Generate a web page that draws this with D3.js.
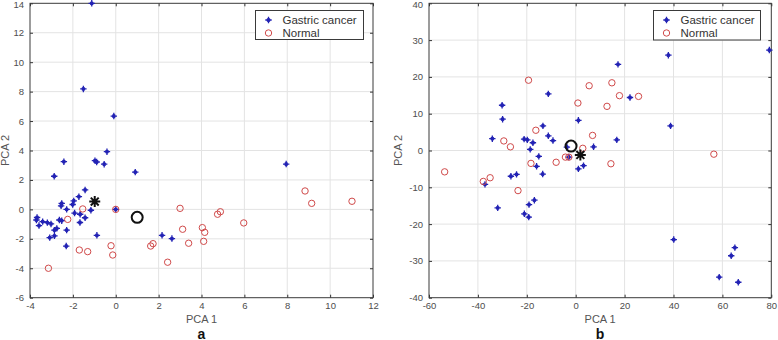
<!DOCTYPE html>
<html>
<head>
<meta charset="utf-8">
<script src="https://cdn.jsdelivr.net/npm/d3@7"></script>
<style>
  body { margin: 0; background: #fff; }
  svg { display: block; font-family: "Liberation Sans", Arial, sans-serif; }
  .tick text { fill: #4d4d4d; font-size: 9.5px; }
</style>
</head>
<body>
<div id="app"></div>
<script>
// panel a: PCA scores [PCA1, PCA2]
const cancerA = [[-1.12,14.0],[-1.51,8.18],[-0.09,6.34],[-0.41,3.92],[-0.97,3.31],[-0.89,3.22],[-0.54,3.07],
  [-2.42,3.24],[-2.87,2.25],[0.91,2.53],[7.95,3.08],[-1.43,1.32],[-1.72,0.86],[-1.96,0.58],[-2.01,0.33],
  [-2.52,0.41],[-2.55,0.24],[-2.29,0.0],[-1.92,-0.25],[-1.66,-0.33],[-1.43,-0.57],[-1.16,-0.06],[-1.67,-0.89],
  [-3.67,-0.55],[-3.70,-0.72],[-3.58,-1.10],[-3.41,-0.83],[-3.19,-0.90],[-3.02,-0.99],[-2.63,-0.72],[-2.52,-0.77],
  [-2.75,-1.29],[-2.86,-1.41],[-2.29,-1.41],[-2.86,-1.80],[-3.08,-1.92],[-2.31,-2.49],[-0.88,-1.76],[2.16,-1.76],
  [2.62,-1.98],[0.0,0.0]];
const normalA = [[-2.24,-0.68],[-1.54,0.03],[0.0,0.0],[-1.70,-2.76],[-1.31,-2.87],[-3.14,-4.0],[-0.22,-2.47],
  [-0.14,-3.10],[3.0,0.07],[3.12,-1.35],[3.40,-2.30],[4.04,-1.24],[4.15,-1.56],[4.10,-2.17],[4.75,-0.33],
  [4.88,-0.16],[5.97,-0.92],[8.83,1.25],[9.14,0.41],[11.02,0.55],[1.63,-2.49],[1.74,-2.33],[2.42,-3.59]];
const centroidA = { cancer: [-0.98, 0.53], normal: [1.0, -0.54] };

// panel b
const cancerB = [[79.2,27.3],[37.9,25.9],[17.3,23.4],[-11.2,15.4],[22.2,14.4],[-30.1,12.3],[-29.9,8.5],[1.1,8.2],
  [38.8,6.7],[-13.4,6.7],[-34.1,3.2],[-21.1,3.1],[-19.8,2.9],[-17.5,2.1],[-11.2,4.0],[-9.3,2.7],[-18.6,0.3],
  [16.8,2.9],[7.3,1.0],[-3.6,0.9],[-15.1,-1.6],[-16.0,-4.3],[-13.5,-6.4],[3.2,-4.1],[1.1,-5.0],[-24.2,-6.5],
  [-26.5,-7.0],[-37.1,-9.2],[-31.9,-15.6],[-16.9,-13.5],[-19.1,-14.7],[-21.0,-17.2],[-19.2,-18.1],[-2.8,-1.8],
  [40.1,-24.2],[65.1,-26.4],[63.6,-28.6],[58.7,-34.4],[66.5,-35.8]];
const normalB = [[-19.3,19.1],[14.8,18.4],[5.5,17.6],[17.9,14.9],[25.7,14.7],[0.9,12.9],[12.8,12.0],[-16.3,5.5],
  [6.9,4.1],[-29.4,2.6],[-26.7,1.0],[2.9,0.6],[-18.3,-3.5],[-8.0,-3.2],[-4.2,-1.8],[-2.8,-1.8],[14.4,-3.6],
  [56.5,-1.0],[-53.6,-5.8],[-37.8,-8.4],[-35.0,-7.4],[-23.6,-10.9]];
const centroidB = { cancer: [1.9, -1.2], normal: [-1.9, 1.2] };

const ticksA = { x: [-4,-2,0,2,4,6,8,10,12], y: [-6,-4,-2,0,2,4,6,8,10,12,14] };
const ticksB = { x: [-60,-40,-20,0,20,40,60,80], y: [-40,-30,-20,-10,0,10,20,30,40] };
const seriesNames = ["Gastric cancer", "Normal"];

const W = 778, H = 340;
const blue = "#2222b4", red = "#d04a4a";
const fmt = d => String(d);   // plain hyphen minus, like the original

const svg = d3.select("#app").append("svg").attr("width", W).attr("height", H);

// asterisk marker: long + arms, short x arms
function star(g, x, y, r, color, sw, diag) {
  const d = r * diag;
  const p = `M${x - r},${y}H${x + r}M${x},${y - r}V${y + r}` +
    `M${x - d},${y - d}L${x + d},${y + d}M${x - d},${y + d}L${x + d},${y - d}`;
  g.append("path").attr("d", p).attr("stroke", color).attr("stroke-width", sw).attr("fill", "none");
}

function panel(opts) {
  const { x0, x1, y0, y1, xdom, ydom, ticks, cancer, normal, centroid, legend, tag, ylabX } = opts;
  const x = d3.scaleLinear().domain(xdom).range([x0, x1]);
  const y = d3.scaleLinear().domain(ydom).range([y1, y0]);
  const g = svg.append("g");

  // grid
  g.append("g").selectAll("line").data(ticks.x.slice(1, -1)).join("line")
    .attr("x1", d => x(d)).attr("x2", d => x(d)).attr("y1", y0).attr("y2", y1)
    .attr("stroke", "#e3e3e3").attr("stroke-width", 1);
  g.append("g").selectAll("line").data(ticks.y.slice(1, -1)).join("line")
    .attr("y1", d => y(d)).attr("y2", d => y(d)).attr("x1", x0).attr("x2", x1)
    .attr("stroke", "#e3e3e3").attr("stroke-width", 1);

  // axes, ticks pointing inward
  const ax = (sel) => sel.select(".domain").remove();
  g.append("g").attr("transform", `translate(0,${y1})`)
    .call(d3.axisBottom(x).tickValues(ticks.x).tickFormat(fmt).tickSizeInner(-3).tickSizeOuter(0).tickPadding(5))
    .call(ax);
  const yAxis = g.append("g").attr("transform", `translate(${x0},0)`)
    .call(d3.axisLeft(y).tickValues(ticks.y).tickFormat(fmt).tickSizeInner(-3).tickSizeOuter(0).tickPadding(6))
    .call(ax);
  // keep the top label inside the page
  yAxis.selectAll(".tick text").filter(d => d === ydom[1]).attr("dy", "0.45em");
  g.append("g").attr("transform", `translate(0,${y0})`)
    .call(d3.axisTop(x).tickValues(ticks.x).tickSizeInner(-3).tickSizeOuter(0).tickFormat(""))
    .call(ax);
  g.append("g").attr("transform", `translate(${x1},0)`)
    .call(d3.axisRight(y).tickValues(ticks.y).tickSizeInner(-3).tickSizeOuter(0).tickFormat(""))
    .call(ax);
  g.selectAll(".tick line").attr("stroke", "#333");

  g.append("rect").attr("x", x0).attr("y", y0).attr("width", x1 - x0).attr("height", y1 - y0)
    .attr("fill", "none").attr("stroke", "#3a3a3a").attr("stroke-width", 1);

  // points
  const pts = g.append("g");
  cancer.forEach(d => star(pts, x(d[0]), y(d[1]), 3.2, blue, 1.3, 0.45));
  pts.selectAll("circle.n").data(normal).join("circle").attr("class", "n")
    .attr("cx", d => x(d[0])).attr("cy", d => y(d[1])).attr("r", 3.2)
    .attr("fill", "none").attr("stroke", red).attr("stroke-width", 1);

  // centroids
  star(pts, x(centroid.cancer[0]), y(centroid.cancer[1]), 5.5, "#111", 2, 0.72);
  pts.append("circle").attr("cx", x(centroid.normal[0])).attr("cy", y(centroid.normal[1])).attr("r", 5.5)
    .attr("fill", "none").attr("stroke", "#111").attr("stroke-width", 2);

  // labels
  const cx = (x0 + x1) / 2;
  svg.append("text").attr("x", cx).attr("y", 323).attr("text-anchor", "middle")
    .attr("fill", "#555").attr("font-size", 11).text("PCA 1");
  svg.append("text").attr("transform", `translate(${ylabX},${(y0 + y1) / 2}) rotate(-90)`)
    .attr("text-anchor", "middle").attr("fill", "#555").attr("font-size", 11).text("PCA 2");
  svg.append("text").attr("x", cx).attr("y", 338.5).attr("text-anchor", "middle")
    .attr("fill", "#111").attr("font-size", 14).attr("font-weight", "bold").text(tag);

  // legend
  const lg = svg.append("g");
  lg.append("rect").attr("x", legend.x).attr("y", legend.y).attr("width", legend.w).attr("height", legend.h)
    .attr("fill", "#fff").attr("stroke", "#3a3a3a").attr("stroke-width", 1);
  star(lg, legend.x + 13, legend.y + 9.5, 3.2, blue, 1.3, 0.45);
  lg.append("circle").attr("cx", legend.x + 13).attr("cy", legend.y + 22.5).attr("r", 3.2)
    .attr("fill", "none").attr("stroke", red).attr("stroke-width", 1);
  seriesNames.forEach((s, i) => {
    lg.append("text").attr("x", legend.x + 27).attr("y", legend.y + 13.5 + i * 13)
      .attr("fill", "#333").attr("font-size", 11.5).text(s);
  });
}

panel({ x0: 30, x1: 373, y0: 3.3, y1: 297.7, xdom: [-4, 12], ydom: [-6, 14], ticks: ticksA,
  cancer: cancerA, normal: normalA, centroid: centroidA, tag: "a", ylabX: 9,
  legend: { x: 255.5, y: 10.5, w: 108, h: 29 } });
panel({ x0: 429, x1: 771.3, y0: 3.3, y1: 297.7, xdom: [-60, 80], ydom: [-40, 40], ticks: ticksB,
  cancer: cancerB, normal: normalB, centroid: centroidB, tag: "b", ylabX: 402,
  legend: { x: 653.5, y: 10.5, w: 107, h: 29.5 } });
</script>
</body>
</html>
